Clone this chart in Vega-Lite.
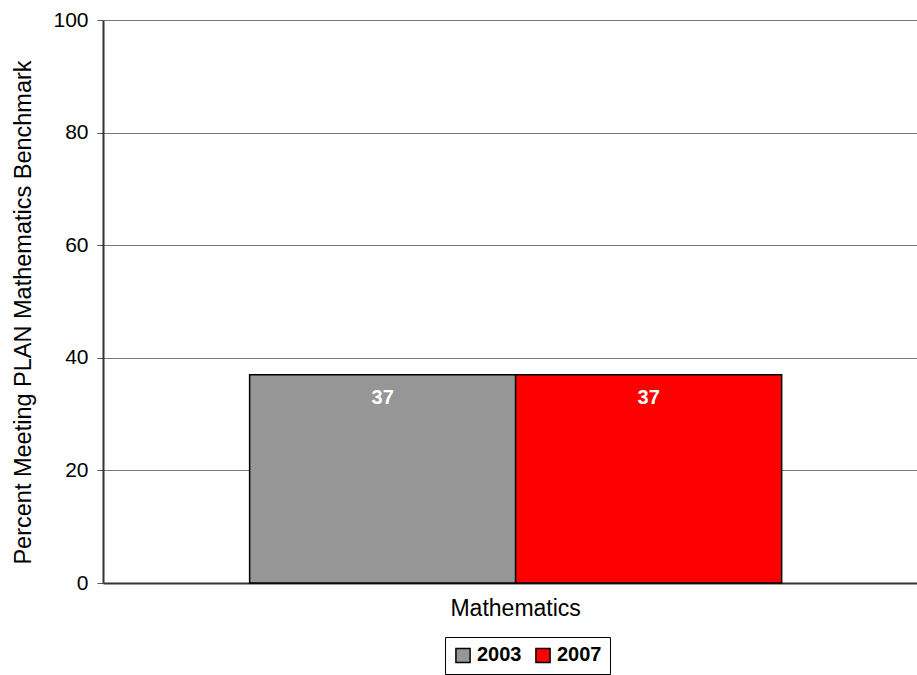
{
  "$schema": "https://vega.github.io/schema/vega-lite/v6.json",
  "autosize": {"type": "none"},
  "padding": {"left": 103, "top": 20, "right": 0, "bottom": 92},
  "width": 814,
  "height": 563,
  "background": "white",
  "config": {
    "font": "Liberation Sans",
    "view": {"stroke": null}
  },
  "data": {
    "values": [
      {"subject": "Mathematics", "year": "2003", "value": 37},
      {"subject": "Mathematics", "year": "2007", "value": 37}
    ]
  },
  "encoding": {
    "x": {
      "field": "subject",
      "type": "nominal",
      "scale": {"paddingInner": 0, "paddingOuter": 0.265, "align": 0.52},
      "axis": {
        "title": null,
        "labelAngle": 0,
        "labelFontSize": 23,
        "labelColor": "#000000",
        "labelPadding": 14,
        "ticks": false,
        "domainColor": "#333333",
        "domainWidth": 2
      }
    },
    "xOffset": {"field": "year", "type": "nominal"},
    "y": {
      "field": "value",
      "type": "quantitative",
      "scale": {"domain": [0, 100]},
      "axis": {
        "values": [0, 20, 40, 60, 80, 100],
        "title": "Percent Meeting PLAN Mathematics Benchmark",
        "titleFontSize": 23.5,
        "titleFontWeight": "normal",
        "titleColor": "#000000",
        "titlePadding": 17,
        "titleY": 292,
        "labelFontSize": 21,
        "labelColor": "#000000",
        "labelPadding": 9,
        "tickColor": "#555555",
        "tickSize": 6,
        "domainColor": "#333333",
        "domainWidth": 2,
        "gridColor": "#777777",
        "gridWidth": 1
      }
    }
  },
  "layer": [
    {
      "mark": {"type": "bar", "stroke": "#000000", "strokeWidth": 1.5},
      "encoding": {
        "color": {
          "field": "year",
          "type": "nominal",
          "scale": {"domain": ["2003", "2007"], "range": ["#969696", "#ff0000"]},
          "legend": {
            "title": null,
            "orient": "none",
            "legendX": 342,
            "legendY": 617,
            "direction": "horizontal",
            "symbolType": "square",
            "symbolSize": 200,
            "symbolStrokeColor": "#000000",
            "symbolStrokeWidth": 1.5,
            "symbolOpacity": 1,
            "labelFontSize": 20,
            "labelFontWeight": "bold",
            "labelColor": "#000000",
            "labelOffset": 4,
            "columnPadding": 10,
            "strokeColor": "#000000",
            "padding": 8
          }
        }
      }
    },
    {
      "mark": {"type": "text", "color": "white", "fontWeight": "bold", "fontSize": 20, "baseline": "middle", "dy": 23},
      "encoding": {
        "text": {"field": "value", "type": "quantitative"}
      }
    }
  ]
}
